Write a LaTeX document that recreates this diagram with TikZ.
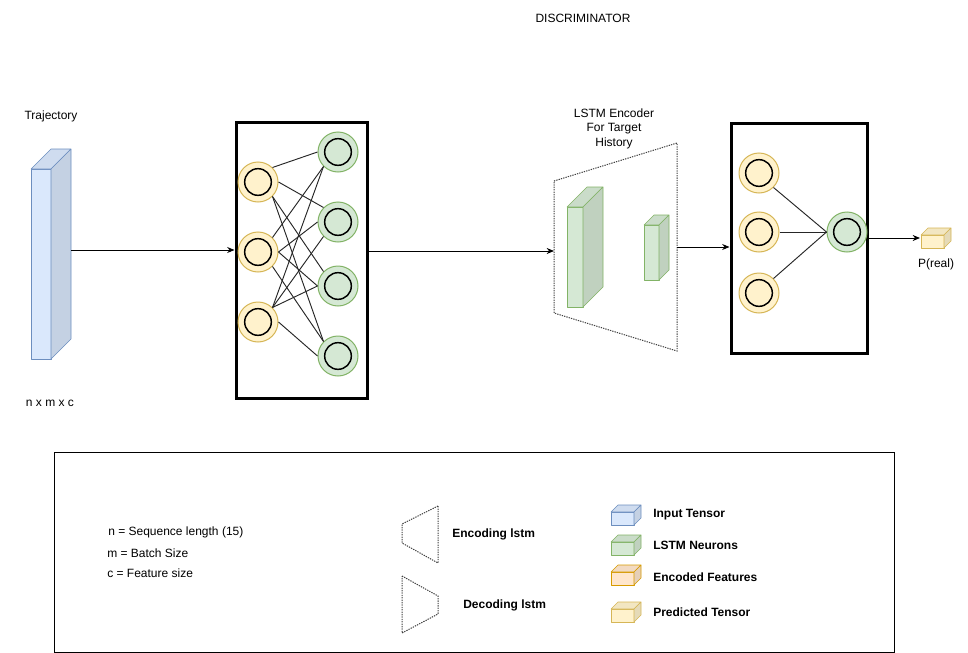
\documentclass[tikz,border=0pt]{standalone}
\usepackage{fontspec}
\setmainfont{Liberation Sans}
\usetikzlibrary{arrows.meta}
\definecolor{bluefill}{HTML}{DAE8FC}
\definecolor{bluestroke}{HTML}{6C8EBF}
\definecolor{greenfill}{HTML}{D5E8D4}
\definecolor{greenstroke}{HTML}{82B366}
\definecolor{yelfill}{HTML}{FFF2CC}
\definecolor{yelstroke}{HTML}{D6B656}
\definecolor{orfill}{HTML}{FFE6CC}
\definecolor{orstroke}{HTML}{D79B00}
\newcommand{\tcube}[7]{%
  \filldraw[fill=#6, draw=#7, line join=round] (#1,#2) rectangle ++(#3,#4);
  \filldraw[fill=#6!95!black, draw=#7, line join=round] (#1,#2) -- ++(#5,-#5) -- ++(#3,0) -- ++(-#5,#5) -- cycle;
  \filldraw[fill=#6!90!black, draw=#7, line join=round] (#1+#3,#2) -- ++(#5,-#5) -- ++(0,#4) -- ++(-#5,#5) -- cycle;
}
\begin{document}
\begin{tikzpicture}[x=0.75pt,y=-0.75pt,
  txt/.style={inner sep=0pt, yshift=-1.4pt, font=\fontsize{9}{10.9}\selectfont},
  btxt/.style={inner sep=0pt, yshift=-1.4pt, font=\fontsize{9}{10.9}\selectfont\bfseries, anchor=west},
  arr/.style={draw=black, line width=0.75pt, -{Stealth[length=5.5pt,width=4.5pt]}},
  blk/.style={draw=black, line width=2.25pt, inner sep=0pt, fill=white},
  neuron/.style={circle, draw, line width=0.75pt, minimum size=30pt, inner sep=0pt,
    path picture={\draw[black, line width=1.1pt] (path picture bounding box.center) circle (10pt);}},
  yn/.style={neuron, fill=yelfill, draw=yelstroke},
  gn/.style={neuron, fill=greenfill, draw=greenstroke},
  wire/.style={draw=black!85, line width=0.7pt},
  trap/.style={draw=black!75, line width=0.75pt, dash pattern=on 1pt off 0.8pt}
]
\useasboundingbox (0,0) rectangle (968,653);

% titles
\node[txt] (title) at (583,17) {DISCRIMINATOR};
\node[txt] (trajlbl) at (51,115) {Trajectory};
\node[txt] (dimlbl) at (50,401) {n x m x c};

% input cube
\tcube{31}{169}{20}{190}{20}{bluefill}{bluestroke}
\coordinate (incube) at (71,250);

% block 1
\node[blk, minimum width=98.25pt, minimum height=207pt] (b1) at (301.5,260) {};
\node[yn] (y1) at (258,182) {};
\node[yn] (y2) at (258,252) {};
\node[yn] (y3) at (258,322) {};
\node[gn] (g1) at (338,152) {};
\node[gn] (g2) at (338,222) {};
\node[gn] (g3) at (338,286) {};
\node[gn] (g4) at (338,356) {};
\draw[wire] (y1.north east) -- (g1.west);
\draw[wire] (y1.east) -- (g2.north west);
\draw[wire] (y1.south east) -- (g3.north west);
\draw[wire] (y1.south east) -- (g4.north west);
\draw[wire] (y2.north east) -- (g1.south west);
\draw[wire] (y2.east) -- (g2.west);
\draw[wire] (y2.east) -- (g3.west);
\draw[wire] (y2.south east) -- (g4.north west);
\draw[wire] (y3.north east) -- (g1.south west);
\draw[wire] (y3.north east) -- (g2.south west);
\draw[wire] (y3.north east) -- (g3.west);
\draw[wire] (y3.east) -- (g4.west);

\draw[arr] (incube) -- (incube -| b1.west);

% LSTM encoder trapezoid
\coordinate (tl) at (554,181);
\coordinate (bl) at (554,313);
\coordinate (tr) at (677,143);
\coordinate (br) at (677,351);
\coordinate (trapin) at (554,251);
\coordinate (trapout) at (677,247);
\draw[trap] (tl) -- (tr) -- (br) -- (bl) -- cycle;
\node[txt, align=center] (lstmlbl) at (614,127) {LSTM Encoder\\For Target\\History};
\tcube{567}{207}{16}{100}{20}{greenfill}{greenstroke}
\tcube{644}{225}{15}{55}{10}{greenfill}{greenstroke}

\draw[arr] (trapin -| b1.east) -- (trapin);

% block 2
\node[blk, minimum width=102pt, minimum height=172.5pt] (b2) at (799,238) {};
\node[yn] (h1) at (759,173) {};
\node[yn] (h2) at (759,232) {};
\node[yn] (h3) at (759,293) {};
\node[gn] (out) at (847,232) {};
\draw[wire] (h1.south east) -- (out.west);
\draw[wire] (h2.east) -- (out.west);
\draw[wire] (h3.north east) -- (out.west);

\draw[arr] (trapout) -- (trapout -| b2.west);

% output cube
\tcube{921}{235}{23}{13}{7}{yelfill}{yelstroke}
\coordinate (pcube) at (920,238);
\draw[arr] (pcube -| b2.east) -- (pcube);
\node[txt] (plbl) at (936,263) {P(real)};

% legend
\draw[black, line width=0.75pt] (54,452) rectangle (894,652);
\node[txt, anchor=west] (ln) at (108,531) {n = Sequence length (15)};
\node[txt, anchor=west] (lm) at (107,551) {m = Batch Size};
\node[txt, anchor=west] (lc) at (107,571) {c = Feature size};

\draw[trap] (438,506) -- (402,524) -- (402,543) -- (438,563) -- cycle;
\node[btxt] (enc) at (452,533) {Encoding lstm};
\draw[trap] (402,576) -- (438,596) -- (438,614) -- (402,633) -- cycle;
\node[btxt] (dec) at (463,604) {Decoding lstm};

\tcube{611}{512}{23}{13}{7}{bluefill}{bluestroke}
\tcube{611}{542}{23}{13}{7}{greenfill}{greenstroke}
\tcube{611}{572}{23}{13}{7}{orfill}{orstroke}
\tcube{611}{609}{23}{13}{7}{yelfill}{yelstroke}
\node[btxt] (l1) at (653,513) {Input Tensor};
\node[btxt] (l2) at (653,543) {LSTM Neurons};
\node[btxt] (l3) at (653,575) {Encoded Features};
\node[btxt] (l4) at (653,610) {Predicted Tensor};
\end{tikzpicture}
\end{document}
